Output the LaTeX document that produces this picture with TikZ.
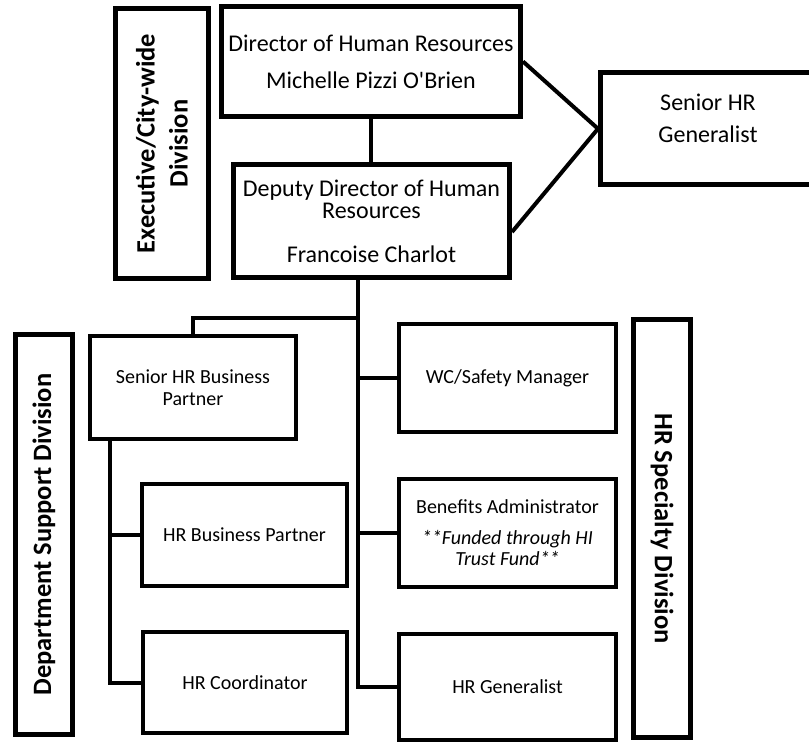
\documentclass[tikz,border=0pt]{standalone}
\usepackage{fontspec}
\setmainfont{Carlito}
\usetikzlibrary{positioning,calc}

\begin{document}
\begin{tikzpicture}[x=1pt, y=-1pt,
  box/.style={draw, line width=5pt, inner sep=0pt, align=center, font=\fontsize{24}{29}\selectfont},
  smallbox/.style={draw, line width=4pt, inner sep=0pt, align=center, font=\fontsize{20}{24}\selectfont},
  division/.style={draw, line width=5pt, inner sep=0pt, align=center, font=\fontsize{26.5}{33}\selectfont\bfseries},
  link/.style={line width=4pt}]

% Canvas
\fill[white] (0,0) rectangle (809,743);
\useasboundingbox (0,0) rectangle (809,743);

% Executive level
\node[division, rotate=90, minimum width=270, minimum height=93] (exec) at (162,143.5) {Executive/City-wide\\Division};
\node[box, minimum width=299, minimum height=110] (dir) at (371,61.5) {Director of Human Resources\\[8pt]Michelle Pizzi O\textquotesingle Brien};
\node[box, minimum width=276, minimum height=113, font=\fontsize{24}{22}\selectfont] (dep) at (371.5,221) {Deputy Director of Human\\Resources\\[22pt]Francoise Charlot};
\node[box, minimum width=214.5, minimum height=111.5] (srgen) at (707.75,128.75) {};
\node[font=\fontsize{24}{32}\selectfont, align=center, inner sep=0pt] (srgentext) at (708,118) {Senior HR\\Generalist};

% Department support
\node[division, rotate=90, minimum width=400, minimum height=57] (dsd) at (44,534.5) {Department Support Division};
\node[smallbox, minimum width=206, minimum height=103, font=\fontsize{20}{22.6}\selectfont] (srbp) at (193,387.5) {Senior HR Business\\Partner};
\node[smallbox, minimum width=205, minimum height=102] (hrbp) at (244.5,535) {HR Business Partner};
\node[smallbox, minimum width=204, minimum height=101] (hrco) at (245,682.5) {HR Coordinator};

% HR specialty
\node[smallbox, minimum width=217, minimum height=108] (wcs) at (507.5,378) {WC/Safety Manager};
\node[smallbox, minimum width=217, minimum height=108, font=\fontsize{20}{21}\selectfont] (ben) at (507.5,533) {Benefits Administrator\\[10pt]{\itshape **Funded through HI}\\{\itshape Trust Fund**}};
\node[smallbox, minimum width=217, minimum height=106] (hrgen) at (507.5,687) {HR Generalist};
\node[division, rotate=-90, minimum width=418, minimum height=57] (hrsd) at (662,528.5) {HR Specialty Division};

% Top connectors
\draw[link] (dir.south) -- (dir.south |- dep.north);
\draw[link] (dir.east) -- (srgen.west);
\draw[link] ([yshift=-11pt]dep.east) -- (srgen.west);

% Trunk and branches
\coordinate (trunk) at ([xshift=-13.5pt]dep.south);
\coordinate (split) at ([yshift=-38pt]trunk);
\draw[link] (trunk) -- (trunk |- hrgen.west) -- (hrgen.west);
\draw[link] (trunk |- wcs.west) -- (wcs.west);
\draw[link] (trunk |- ben.west) -- (ben.west);
\draw[link] (split) -| (srbp.north);

\coordinate (left) at ([xshift=-83pt]srbp.south);
\draw[link] (left) |- (hrco.west);
\draw[link] (left |- hrbp.west) -- (hrbp.west);

\end{tikzpicture}
\end{document}
